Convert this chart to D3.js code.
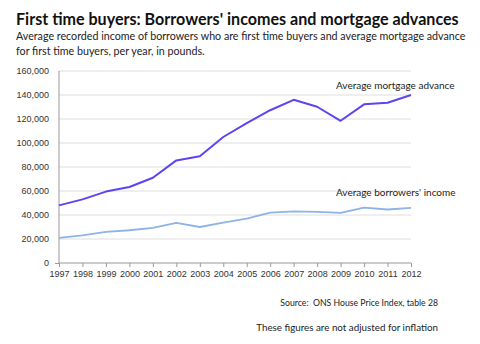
<!DOCTYPE html>
<html>
<head>
<meta charset="utf-8">
<script src="https://cdn.jsdelivr.net/npm/d3@7/dist/d3.min.js"></script>
<style>
  html, body { margin: 0; padding: 0; background: #fff; }
  svg { display: block; font-family: Lato, "Open Sans", sans-serif; }
</style>
</head>
<body>
<svg id="chart" width="480" height="344"></svg>
<script>
// First time buyers: average mortgage advance and average borrower income, in pounds
const years = [1997, 1998, 1999, 2000, 2001, 2002, 2003, 2004, 2005, 2006, 2007, 2008, 2009, 2010, 2011, 2012];
const mortgageAdvance = [48000, 53000, 59500, 63300, 71000, 85500, 89000, 105000, 116500, 127300, 136000, 130200, 118500, 132200, 133600, 140000];
const borrowerIncome = [20900, 23100, 25900, 27300, 29200, 33400, 30000, 33700, 37000, 42000, 43100, 42600, 41700, 46200, 44600, 45900];
const yTicks = [0, 20000, 40000, 60000, 80000, 100000, 120000, 140000, 160000];

const svg = d3.select("#chart");
const plot = { left: 59, right: 411, top: 71, bottom: 263 };

const x = d3.scalePoint().domain(years).range([plot.left, plot.right]);
const y = d3.scaleLinear().domain([0, 160000]).range([plot.bottom, plot.top]);

// Titles
svg.append("text").attr("x", 16).attr("y", 25)
  .attr("font-size", 16.1).attr("font-weight", "bold").attr("fill", "#111")
  .text("First time buyers: Borrowers' incomes and mortgage advances");
svg.append("text").attr("x", 16).attr("y", 40)
  .attr("font-size", 10.7).attr("fill", "#222")
  .text("Average recorded income of borrowers who are first time buyers and average mortgage advance");
svg.append("text").attr("x", 16).attr("y", 55)
  .attr("font-size", 10.7).attr("fill", "#222")
  .text("for first time buyers, per year, in pounds.");

// Gridlines
svg.append("g")
  .selectAll("line").data(yTicks.filter(d => d > 0)).join("line")
  .attr("x1", plot.left).attr("x2", plot.right)
  .attr("y1", d => y(d)).attr("y2", d => y(d))
  .attr("stroke", "#dedede").attr("stroke-width", 1);

// Y axis
const yAxis = svg.append("g").attr("transform", `translate(${plot.left},0)`)
  .call(d3.axisLeft(y).tickValues(yTicks).tickFormat(d3.format(",")).tickSize(4).tickPadding(6));
yAxis.selectAll("text").attr("font-size", 9).attr("fill", "#333");
yAxis.selectAll(".tick line").attr("stroke", "#999").attr("x2", d => d === 0 ? -4 : 0);
yAxis.select(".domain").attr("stroke", "#999").attr("d", `M0,${plot.top}V${plot.bottom}`);

// X axis
const xAxis = svg.append("g").attr("transform", `translate(0,${plot.bottom})`)
  .call(d3.axisBottom(x).tickSize(4).tickPadding(4));
xAxis.selectAll("text").attr("font-size", 9).attr("fill", "#333");
xAxis.selectAll(".tick line").attr("stroke", "#999");
xAxis.select(".domain").attr("stroke", "#999").attr("d", `M${plot.left},0H${plot.right}`);

// Series lines
const line = d3.line().x((d, i) => x(years[i])).y(d => y(d));
svg.append("path").datum(borrowerIncome)
  .attr("fill", "none").attr("stroke", "#8db3e8").attr("stroke-width", 1.8)
  .attr("stroke-linejoin", "round").attr("d", line);
svg.append("path").datum(mortgageAdvance)
  .attr("fill", "none").attr("stroke", "#5b45f0").attr("stroke-width", 2)
  .attr("stroke-linejoin", "round").attr("d", line);

// Series labels
svg.append("text").attr("x", 336).attr("y", 89)
  .attr("font-size", 10).attr("fill", "#222").text("Average mortgage advance");
svg.append("text").attr("x", 336).attr("y", 196)
  .attr("font-size", 10).attr("fill", "#222").text("Average borrowers' income");

// Notes
svg.append("text").attr("x", 438).attr("y", 306).attr("text-anchor", "end")
  .style("white-space", "pre")
  .attr("font-size", 8.7).attr("fill", "#222").text("Source:  ONS House Price Index, table 28");
svg.append("text").attr("x", 438).attr("y", 331).attr("text-anchor", "end")
  .attr("font-size", 9.8).attr("fill", "#222").text("These figures are not adjusted for inflation");
</script>
</body>
</html>
